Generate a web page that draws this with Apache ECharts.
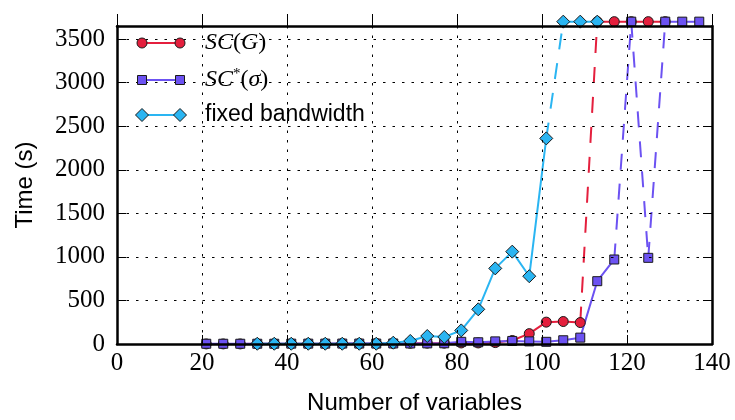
<!DOCTYPE html>
<html>
<head>
<meta charset="utf-8">
<script src="https://cdn.jsdelivr.net/npm/echarts@6/dist/echarts.min.js"></script>
<style>html,body{margin:0;padding:0;background:#fff;}#c{width:735px;height:420px;}</style>
</head>
<body>
<div id="c"></div>
<script>
// ---- data ----
const numVariables = [21,25,29,33,37,41,45,49,53,57,61,65,69,73,77,81,85,89,93,97,101,105,109,113,117,121,125,129,133,137];
const TIMEOUT = 3700;
const scG      = [1,1,1,2,2,3,3,4,5,5,6,7,8,10,10,12,12,16,40,119,251,258,246,3700,3700,3700,3700,3700,null,null];
const scSigma  = [3,3,3,3,3,4,4,4,5,5,5,6,6,7,8,25,20,30,35,30,25,43,73,721,970,3700,989,3700,3700,3700];
const fixedBw  = [null,null,null,3,3,3,3,3,3,3,3,15,35,92,81,156,398,868,1060,778,2360,3700,3700,3700,null,null,null,null,null,null];
const xTickLabels = [0,20,40,60,80,100,120,140];
const yTickLabels = [0,500,1000,1500,2000,2500,3000,3500];
const yMax = 3650;

const methods = [
  {name:'SC(G)', values: scG, color:'#e41f3d', symbol:'circle', size:10},
  {name:'SC*(σ)', values: scSigma, color:'#6c52f2', symbol:'rect', size:9},
  {name:'fixed bandwidth', values: fixedBw, color:'#2ab5f2', symbol:'diamond', size:13}
];

const EDGE = '#1a1a1a';
const series = [];
methods.forEach(m => {
  const pts = [];
  numVariables.forEach((x,i) => { if (m.values[i] !== null) pts.push([x, m.values[i]]); });
  const runs = []; const dashes = [];
  let cur = [pts[0]];
  for (let i = 1; i < pts.length; i++) {
    const a = pts[i-1], b = pts[i];
    const ta = a[1] >= TIMEOUT, tb = b[1] >= TIMEOUT;
    if (ta === tb) { cur.push(b); }
    else { runs.push(cur); dashes.push([a,b]); cur = [b]; }
  }
  runs.push(cur);
  dashes.forEach(d => series.push({
    type:'line', data:d, showSymbol:false, clip:false, silent:true,
    lineStyle:{color:m.color, width:2, type:[16,14]}, z:2
  }));
  runs.forEach(r => series.push({
    type:'line', data:r, symbol:m.symbol, symbolSize:m.size, showSymbol:true, clip:false, silent:true,
    lineStyle:{color:m.color, width:2},
    itemStyle:{color:m.color, borderColor:EDGE, borderWidth:1, opacity:1}, z:3
  }));
});

// legend built as graphic elements (line with two markers + label)
const legendRows = [43, 80, 115];
const lx0 = 142, lx1 = 180, tx = 205;
const legendGraphics = [];
const richStyles = {
  it:{fontFamily:'Liberation Serif', fontStyle:'italic', fontSize:24, fill:'#000'},
  rm:{fontFamily:'Liberation Serif', fontSize:24, fill:'#000'},
  sup:{fontFamily:'Liberation Serif', fontSize:15, fill:'#000', verticalAlign:'top', padding:[0,0,12,0]},
  sans:{fontFamily:'Liberation Sans', fontSize:23, fill:'#000'}
};
const legendTexts = [
  '{it|SC}{rm|(}{it|G}{rm|)}',
  '{it|SC}{sup|*}{rm|(}{it|σ}{rm|)}',
  '{sans|fixed bandwidth}'
];
function marker(m, cx, cy) {
  const st = {fill:m.color, stroke:EDGE, lineWidth:1};
  if (m.symbol === 'circle') return {type:'circle', shape:{cx, cy, r:m.size/2}, style:st, z:100};
  if (m.symbol === 'rect') return {type:'rect', shape:{x:cx-m.size/2, y:cy-m.size/2, width:m.size, height:m.size}, style:st, z:100};
  const h = m.size/2;
  return {type:'polygon', shape:{points:[[cx,cy-h],[cx+h,cy],[cx,cy+h],[cx-h,cy]]}, style:st, z:100};
}
methods.forEach((m, i) => {
  const y = legendRows[i];
  legendGraphics.push({type:'line', shape:{x1:lx0, y1:y, x2:lx1, y2:y}, style:{stroke:m.color, lineWidth:2}, z:100});
  legendGraphics.push(marker(m, lx0, y));
  legendGraphics.push(marker(m, lx1, y));
  legendGraphics.push({type:'text', x:tx, y:y, z:100, style:{text:legendTexts[i], rich:richStyles, verticalAlign:'middle', align:'left'}});
});

const gridL = 117, gridR = 23, gridT = 26, gridB = 70;
// mask reproducing marker clipping below the bottom spine
legendGraphics.push({type:'rect', shape:{x:gridL+1, y:420-gridB+1, width:735-gridL-gridR-2, height:7}, style:{fill:'#fff'}, z:50});

const dotted = {show:true, lineStyle:{color:'#000', width:1, type:[2.5,7]}};
const serifLabel = {fontFamily:'Liberation Serif', fontSize:25, color:'#000'};
const chart = echarts.init(document.getElementById('c'), null, {renderer:'canvas'});
chart.setOption({
  animation:false,
  backgroundColor:'#fff',
  grid:{left:gridL, right:gridR, top:gridT, bottom:gridB, containLabel:false},
  xAxis:[
    {type:'value', min:xTickLabels[0], max:xTickLabels[xTickLabels.length-1], interval:20, position:'bottom', z:60,
     name:'Number of variables', nameLocation:'middle', nameGap:47,
     nameTextStyle:{fontFamily:'Liberation Sans', fontSize:24, color:'#000'},
     axisLine:{show:true, onZero:false, lineStyle:{color:'#000', width:2.5}},
     axisTick:{show:true, inside:true, length:9, lineStyle:{color:'#000', width:1}},
     axisLabel:{...serifLabel, margin:7},
     splitLine:dotted},
    {type:'value', min:xTickLabels[0], max:xTickLabels[xTickLabels.length-1], interval:20, position:'top', z:60,
     axisLine:{show:true, onZero:false, lineStyle:{color:'#000', width:2.5}},
     axisTick:{show:true, inside:false, length:12, lineStyle:{color:'#000', width:1}},
     axisLabel:{show:false}, splitLine:{show:false}}
  ],
  yAxis:[
    {type:'value', min:0, max:yMax, interval:500, position:'left', z:60,
     name:'Time (s)', nameLocation:'middle', nameGap:80, nameRotate:90,
     nameTextStyle:{fontFamily:'Liberation Sans', fontSize:24, color:'#000'},
     axisLine:{show:true, onZero:false, lineStyle:{color:'#000', width:2.5}},
     axisTick:{show:true, inside:true, length:9, lineStyle:{color:'#000', width:1}},
     axisLabel:{...serifLabel, margin:12, showMaxLabel:false,
       formatter: v => yTickLabels.indexOf(v) >= 0 ? String(v) : ''},
     splitLine:dotted},
    {type:'value', min:0, max:yMax, interval:500, position:'right', z:60,
     axisLine:{show:true, onZero:false, lineStyle:{color:'#000', width:2.5}},
     axisTick:{show:true, inside:true, length:9, lineStyle:{color:'#000', width:1}},
     axisLabel:{show:false}, splitLine:{show:false}}
  ],
  graphic:legendGraphics,
  series:series
});
</script>
</body>
</html>
